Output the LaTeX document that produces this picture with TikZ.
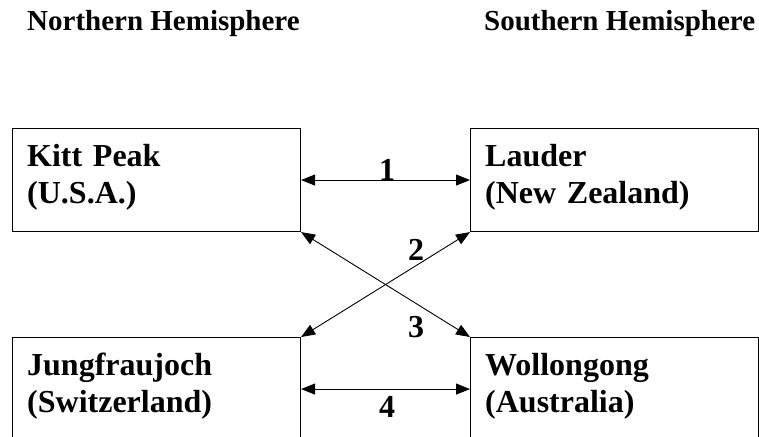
\documentclass[tikz,border=0pt]{standalone}
\usepackage{fontspec}
\setmainfont{Liberation Serif}
\usetikzlibrary{calc}
\usetikzlibrary{arrows.meta}

\tikzset{
  site/.style={draw, line width=1.1pt, minimum width=288pt, minimum height=103pt, inner sep=0pt, anchor=north west},
  sitename/.style={anchor=base west, inner sep=0pt, text width=265pt, align=left, font=\fontsize{32}{37}\selectfont\bfseries},
  hemi/.style={anchor=base west, inner sep=0pt, font=\fontsize{29}{34}\selectfont\bfseries},
  num/.style={anchor=base, inner sep=0pt, font=\fontsize{32}{37}\selectfont\bfseries},
  link/.style={line width=0.9pt, {Triangle[length=14pt,width=11pt]}-{Triangle[length=14pt,width=11pt]}}
}

\begin{document}
\begin{tikzpicture}[x=1pt,y=-1pt]
            \useasboundingbox (0,0) rectangle (759,436);

            % Text offset inside a box
            \def\dx{15}
            \def\dy{38}

            % Top left corners of the boxes
            \coordinate (C00) at (12,128);
            \coordinate (C10) at (470,128);
            \coordinate (C01) at (12,337);
            \coordinate (C11) at (470,337);

            % Draw headings
            \node[hemi] (north) at (27,31) {Northern Hemisphere};
            \node[hemi] (south) at (484,31) {Southern Hemisphere};

            % Draw station boxes
            \node[site] (kitt) at (C00) {};
            \node[site] (lauder) at (C10) {};
            \node[site] (jungfrau) at (C01) {};
            \node[site] (wollongong) at (C11) {};

            % Draw station names
            \node[sitename] (kittname) at ($(C00)+(\dx,\dy)$) {Kitt Peak\\(U.S.A.)};
            \node[sitename] (laudername) at ($(C10)+(\dx,\dy)$) {Lauder\\(New Zealand)};
            \node[sitename] (jungfrauname) at ($(C01)+(\dx,\dy)$) {Jungfraujoch\\(Switzerland)};
            \node[sitename] (wollongongname) at ($(C11)+(\dx,\dy)$) {Wollongong\\(Australia)};

            % Draw links
            \draw[link] (kitt.east) -- (lauder.west);
            \draw[link] (kitt.south east) -- (wollongong.north west);
            \draw[link] (lauder.south west) -- (jungfrau.north east);
            \draw[link] (jungfrau.east) -- (wollongong.west);

            % Draw link numbers
            \node[num] (n1) at (387,180) {1};
            \node[num] (n2) at (416,260) {2};
            \node[num] (n3) at (416,337) {3};
            \node[num] (n4) at (387,417) {4};
\end{tikzpicture}
\end{document}
